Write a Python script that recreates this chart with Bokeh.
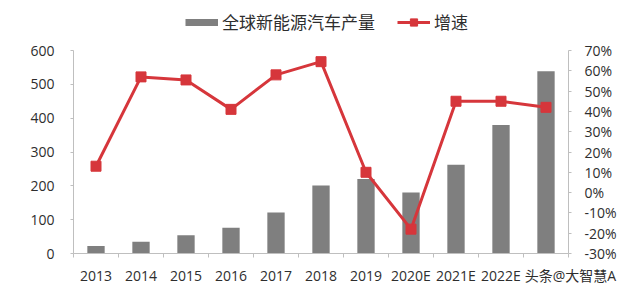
from bokeh.plotting import figure
from bokeh.models import (Range1d, LinearAxis, FixedTicker, PrintfTickFormatter,
                          Legend, LegendItem, ColumnDataSource)
from bokeh.embed import file_html
from bokeh.resources import INLINE

categories = ["2013", "2014", "2015", "2016", "2017", "2018", "2019",
              "2020E", "2021E", "2022E", "2023E"]
production = [22, 35, 54, 76, 121, 201, 220, 180, 262, 380, 539]
growth = [13, 57, 55.5, 41, 58, 64.5, 10, -18, 45, 45, 42]
left_ticks = [0, 100, 200, 300, 400, 500, 600]
right_ticks = [-30, -20, -10, 0, 10, 20, 30, 40, 50, 60, 70]
bar_label = "全球新能源汽车产量"
line_label = "增速"
watermark = "头条@大智慧A"

BAR = "#7f7f7f"
RED = "#d6363b"
AXIS = "#bfbfbf"
TXT = "#2e2e2e"
FONT = "'Open Sans', 'Noto Sans CJK SC'"
CJK = "Noto Sans CJK SC"

# frame spans the full height above the x axis; the value axes are bounded
FRAME_H = 253.0
AXIS_H = 203.0
l_lo, l_hi = left_ticks[0], left_ticks[-1]
r_lo, r_hi = right_ticks[0], right_ticks[-1]
l_top = l_lo + (l_hi - l_lo) * FRAME_H / AXIS_H
r_top = r_lo + (r_hi - r_lo) * FRAME_H / AXIS_H

xs = [i + 0.5 for i in range(len(categories))]
src = ColumnDataSource(dict(x=xs, prod=production, g=growth))

p = figure(width=640, height=289, output_backend="svg", toolbar_location=None,
           x_range=Range1d(0, len(categories)), y_range=Range1d(l_lo, l_top),
           min_border_left=73, min_border_right=72, min_border_top=0,
           min_border_bottom=36, x_axis_location=None, y_axis_location=None)
p.outline_line_color = None
p.xgrid.grid_line_color = None
p.ygrid.grid_line_color = None
p.background_fill_color = "white"
p.border_fill_color = "white"
p.extra_y_ranges = {"pct": Range1d(r_lo, r_top)}

def style_axis(ax):
    ax.axis_line_color = AXIS
    ax.major_tick_line_color = AXIS
    ax.minor_tick_line_color = AXIS
    ax.major_tick_in = 0
    ax.major_tick_out = 3
    ax.minor_tick_in = 0
    ax.minor_tick_out = 0
    ax.major_label_text_font = FONT
    ax.major_label_text_font_size = "14px"
    ax.major_label_text_color = TXT

yl = LinearAxis(ticker=FixedTicker(ticks=left_ticks), bounds=(l_lo, l_hi))
style_axis(yl)
yl.major_label_standoff = 16
p.add_layout(yl, "left")

yr = LinearAxis(y_range_name="pct", ticker=FixedTicker(ticks=right_ticks),
                formatter=PrintfTickFormatter(format="%d%%"), bounds=(r_lo, r_hi))
style_axis(yr)
yr.major_label_standoff = 13
p.add_layout(yr, "right")

xa = LinearAxis(ticker=FixedTicker(ticks=xs, minor_ticks=list(range(len(categories) + 1))))
style_axis(xa)
xa.major_tick_line_color = None
xa.major_tick_out = 0
xa.minor_tick_out = 4
xa.major_label_standoff = 8
overrides = {x: c for x, c in zip(xs, categories)}
# the last category label is covered by the source's watermark in the reference
overrides[xs[-1]] = "\u3000\u3000\u3000\u2002" + watermark
xa.major_label_overrides = overrides
p.add_layout(xa, "below")

p.vbar(x="x", top="prod", width=0.385, source=src, fill_color=BAR, line_color=None)
ln = p.line(x="x", y="g", source=src, y_range_name="pct", line_color=RED, line_width=3)
sc = p.scatter(x="x", y="g", source=src, y_range_name="pct", marker="square",
               size=10, fill_color=RED, line_color=RED)

dummy = p.line(x=[-5, -4], y=[-50, -50], line_color=BAR, line_width=7)

legend = Legend(items=[LegendItem(label=bar_label, renderers=[dummy]),
                       LegendItem(label=line_label, renderers=[ln, sc])],
                orientation="horizontal", location=(112, 219),
                glyph_width=33, glyph_height=18, label_standoff=4, spacing=22,
                padding=0, margin=0, border_line_color=None,
                background_fill_alpha=0,
                label_text_font=CJK, label_text_font_size="17px",
                label_text_color=TXT)
p.add_layout(legend)

open("out.html", "w").write(file_html(p, INLINE))
